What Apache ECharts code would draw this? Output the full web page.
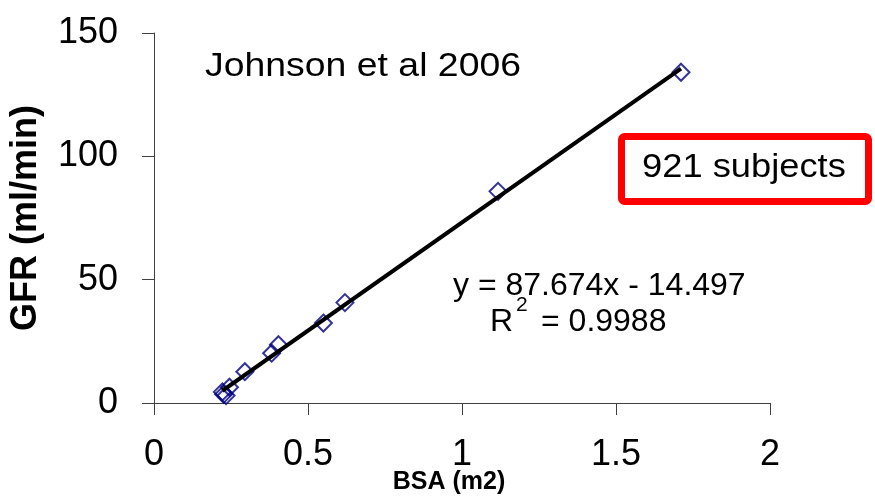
<!DOCTYPE html>
<html>
<head>
<meta charset="utf-8">
<script src="https://cdn.jsdelivr.net/npm/echarts@6/dist/echarts.min.js"></script>
<style>
html,body{margin:0;padding:0;background:#fff;}
#chart{width:875px;height:497px;}
</style>
</head>
<body>
<div id="chart"></div>
<script>
// Data
var bsa = [0.222, 0.226, 0.234, 0.245, 0.295, 0.382, 0.404, 0.550, 0.620, 1.117, 1.711];
var gfr = [4.5, 3.5, 3.0, 6.4, 12.7, 20.2, 23.6, 32.4, 40.7, 85.8, 134.1];
// Trend line coefficients (shown on chart)
var slope = 87.674;
var intercept = -14.497;
var trendRange = [0.222, 1.711];
var xTicks = [0, 0.5, 1, 1.5, 2];
var yTicks = [0, 50, 100, 150];

var points = bsa.map(function (x, i) { return [x, gfr[i]]; });
var trend = trendRange.map(function (x) { return [x, slope * x + intercept]; });

var font = '"Liberation Sans", Arial, sans-serif';
var chart = echarts.init(document.getElementById('chart'), null, {renderer: 'canvas'});
chart.setOption({
  animation: false,
  backgroundColor: '#ffffff',
  grid: {left: 154, right: 105, top: 33, bottom: 94, containLabel: false, outerBoundsMode: 'none'},
  xAxis: {
    type: 'value', min: xTicks[0], max: xTicks[xTicks.length - 1], interval: 0.5,
    name: 'BSA (m2)', nameLocation: 'middle', nameGap: 67, nameMoveOverlap: false,
    nameTextStyle: {fontFamily: font, fontWeight: 'bold', fontSize: 25, color: '#000', padding: [0, 26, 0, 0]},
    axisLine: {show: true, onZero: false, lineStyle: {color: '#404040', width: 1}},
    axisTick: {show: true, length: 12, lineStyle: {color: '#404040', width: 1}},
    axisLabel: {fontFamily: font, fontSize: 36, color: '#000', margin: 34,
      formatter: function (v) { return String(v); }},
    splitLine: {show: false}
  },
  yAxis: {
    type: 'value', min: yTicks[0], max: yTicks[yTicks.length - 1], interval: 50,
    name: 'GFR (ml/min)', nameLocation: 'middle', nameGap: 110, nameMoveOverlap: false,
    nameTextStyle: {fontFamily: font, fontWeight: 'bold', fontSize: 36, color: '#000'},
    axisLine: {show: true, onZero: false, lineStyle: {color: '#404040', width: 1}},
    axisTick: {show: true, length: 12, lineStyle: {color: '#404040', width: 1}},
    axisLabel: {fontFamily: font, fontSize: 36, color: '#000', margin: 36, padding: [0, 0, 10, 0]},
    splitLine: {show: false}
  },
  series: [
    {
      type: 'scatter', data: points, z: 2,
      symbol: 'path://M0,-1L1,0L0,1L-1,0Z', symbolSize: 17,
      itemStyle: {color: 'rgba(0,0,0,0)', borderColor: '#000080', borderWidth: 2}
    },
    {
      type: 'line', data: trend, z: 3, symbol: 'none',
      lineStyle: {color: '#000', width: 4}
    }
  ],
  graphic: [
    {type: 'text', x: 205, y: 67, scaleX: 1.1, originX: 0, originY: 0,
      style: {text: 'Johnson et al 2006', fontFamily: font, fontSize: 34, fill: '#000', verticalAlign: 'middle', align: 'left'}},
    {type: 'rect', shape: {x: 621.5, y: 136.5, width: 247, height: 65, r: 3},
      style: {fill: '#fff', stroke: '#ff0000', lineWidth: 7}},
    {type: 'text', x: 642, y: 168, scaleX: 1.1, originX: 0, originY: 0,
      style: {text: '921 subjects', fontFamily: font, fontSize: 33, fill: '#000', verticalAlign: 'middle', align: 'left'}},
    {type: 'text', x: 453, y: 286,
      style: {text: 'y = 87.674x - 14.497', fontFamily: font, fontSize: 32, fill: '#000', verticalAlign: 'middle', align: 'left'}},
    {type: 'text', x: 490, y: 322,
      style: {text: 'R', fontFamily: font, fontSize: 32, fill: '#000', verticalAlign: 'middle', align: 'left'}},
    {type: 'text', x: 516, y: 305,
      style: {text: '2', fontFamily: font, fontSize: 21, fill: '#000', verticalAlign: 'middle', align: 'left'}},
    {type: 'text', x: 541, y: 322,
      style: {text: '= 0.9988', fontFamily: font, fontSize: 32, fill: '#000', verticalAlign: 'middle', align: 'left'}}
  ]
});
</script>
</body>
</html>
